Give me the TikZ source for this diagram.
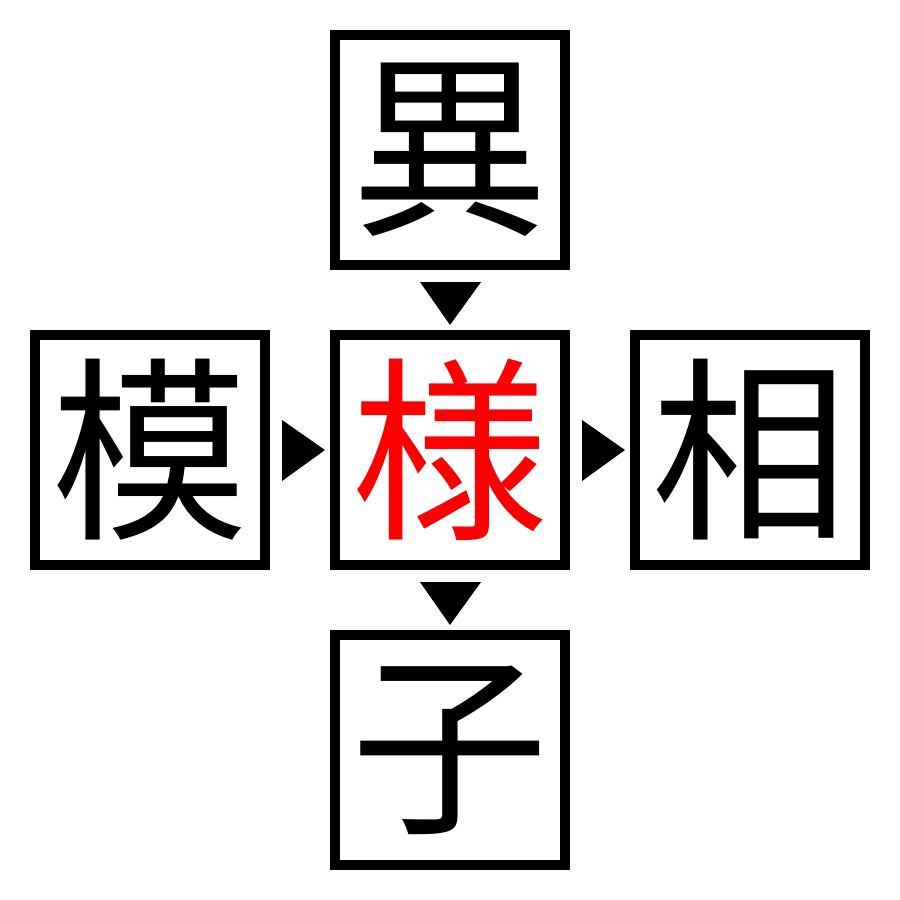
\documentclass[tikz,border=0pt]{standalone}
\usepackage{fontspec}
\usetikzlibrary{calc}
\newfontfamily\cjk{Noto Sans CJK JP}
\begin{document}
\begin{tikzpicture}[x=0.01cm,y=-0.01cm,
  kbox/.style={draw=black,line width=0.1cm,minimum size=2.3cm,inner sep=0pt,outer sep=0pt,font=\cjk\fontsize{56}{56}\selectfont},
  tri/.style={fill=black,draw=none}]
\useasboundingbox (0,0) rectangle (900,900);
\node[kbox] (top) at (450,150) {異};
\node[kbox,text=red] (mid) at (450,450) {様};
\node[kbox] (left) at (150,450) {模};
\node[kbox] (right) at (750,450) {相};
\node[kbox] (bot) at (450,750) {子};
\fill[tri] ($(top.south)+(-30,17)$) -- ($(top.south)+(31,17)$) -- ($(mid.north)+(0,-10)$) -- cycle;
\fill[tri] ($(mid.south)+(-30,17)$) -- ($(mid.south)+(31,17)$) -- ($(bot.north)+(0,-10)$) -- cycle;
\fill[tri] ($(left.east)+(17,-30)$) -- ($(left.east)+(17,31)$) -- ($(mid.west)+(-10,0)$) -- cycle;
\fill[tri] ($(mid.east)+(17,-30)$) -- ($(mid.east)+(17,31)$) -- ($(right.west)+(-10,0)$) -- cycle;
\end{tikzpicture}
\end{document}
